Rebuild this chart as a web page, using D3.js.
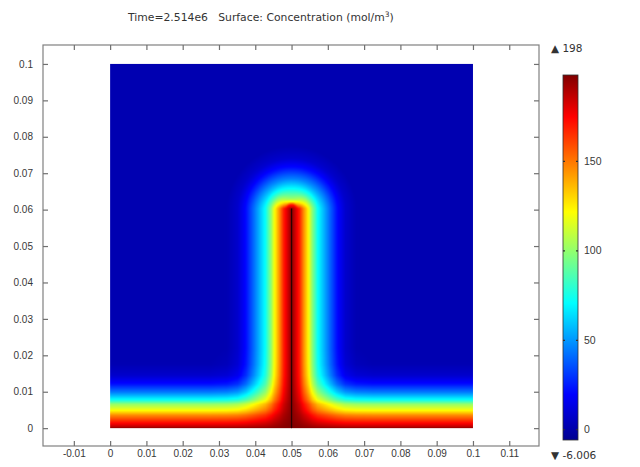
<!DOCTYPE html>
<html>
<head>
<meta charset="utf-8">
<script src="https://cdn.jsdelivr.net/npm/d3@7"></script>
<style>
  body { margin: 0; background: #fff; }
  svg { display: block; font-family: "DejaVu Sans", sans-serif; }
</style>
</head>
<body>
<div id="chart"></div>
<script>
// axis ticks
var xTicks = [-0.01, 0, 0.01, 0.02, 0.03, 0.04, 0.05, 0.06, 0.07, 0.08, 0.09, 0.1, 0.11];
var xTickLabels = ["-0.01", "0", "0.01", "0.02", "0.03", "0.04", "0.05", "0.06", "0.07", "0.08", "0.09", "0.1", "0.11"];
var yTicks = [0, 0.01, 0.02, 0.03, 0.04, 0.05, 0.06, 0.07, 0.08, 0.09, 0.1];
var yTickLabels = ["0", "0.01", "0.02", "0.03", "0.04", "0.05", "0.06", "0.07", "0.08", "0.09", "0.1"];
var cbTicks = [0, 50, 100, 150];
var cMin = -6.006, cMax = 198;

// concentration read across the vertical plume (distance from centre line, m)
var plumeDist = [0, 0.0008, 0.0022, 0.0033, 0.0047, 0.0056, 0.0072, 0.0100, 0.0125, 0.0148, 0.0178, 0.0225];
var plumeConc = [196, 186, 168, 146, 121, 100, 72, 45, 22, 8, 2, 0];
// above the tip of the plume (distance above top of source, m)
var tipDist = [0, 0.0011, 0.0019, 0.0028, 0.0054, 0.0082, 0.0112, 0.0138, 0.0180];
var tipConc = [192, 168, 121, 100, 72, 45, 22, 8, 0];
// bottom layer (height above y=0, m)
var bottomDist = [0, 0.0005, 0.0017, 0.0036, 0.0049, 0.0066, 0.0078, 0.0098, 0.0121, 0.0145, 0.0175, 0.0220];
var bottomConc = [196, 185, 170, 145, 121, 100, 72, 45, 22, 8, 2, 0];
var plumeX = 0.05, plumeTop = 0.0603, background = 1.5;
var domainX = [0, 0.1], domainY = [0, 0.1];

// colour table
var jetStops = [0, 0.125, 0.375, 0.625, 0.885, 1];
var jetColors = ["#000090", "#0000ff", "#00ffff", "#ffff00", "#ff0000", "#800000"];

var width = 640, height = 467;

var svg = d3.select("#chart")
    .append("svg")
    .attr("width", width)
    .attr("height", height);

var x = d3.scaleLinear().domain([-0.0185, 0.1182]).range([43, 539]);
var y = d3.scaleLinear().domain([-0.0049, 0.1052]).range([446, 45]);

var cNorm = d3.scaleLinear().domain([cMin, cMax]).range([0, 1]).clamp(true);
var cmap = d3.scaleLinear().domain(jetStops).range(jetColors).interpolate(d3.interpolateRgb);
var color = function (v) { return cmap(cNorm(v)); };

var plume = d3.scaleLinear().domain(plumeDist).range(plumeConc).clamp(true);
var tip = d3.scaleLinear().domain(tipDist).range(tipConc).clamp(true);
var bottom = d3.scaleLinear().domain(bottomDist).range(bottomConc).clamp(true);

function conc(xv, yv) {
    var dx = Math.abs(xv - plumeX);
    var dy = Math.max(0, yv - plumeTop);
    var p;
    if (dy == 0) {
        p = plume(dx);
    } else {
        var r = Math.sqrt(dx * dx + dy * dy);
        var w = dy / r;
        p = plume(r) * (1 - w) + tip(r) * w;
    }
    var b = bottom(yv);
    var v = cMax * (1 - (1 - p / cMax) * (1 - b / cMax));
    return Math.max(v, background);
}

// render the field on a small canvas then place it with the scales
var n = 300;
var canvas = document.createElement("canvas");
canvas.width = n;
canvas.height = n;
var ctx = canvas.getContext("2d");
var img = ctx.createImageData(n, n);
for (var j = 0; j < n; j++) {
    var yv = domainY[1] - (j + 0.5) / n * (domainY[1] - domainY[0]);
    for (var i = 0; i < n; i++) {
        var xv = domainX[0] + (i + 0.5) / n * (domainX[1] - domainX[0]);
        var c = d3.rgb(color(conc(xv, yv)));
        var k = (j * n + i) * 4;
        img.data[k] = c.r;
        img.data[k + 1] = c.g;
        img.data[k + 2] = c.b;
        img.data[k + 3] = 255;
    }
}
ctx.putImageData(img, 0, 0);

svg.append("image")
    .attr("x", x(domainX[0]))
    .attr("y", y(domainY[1]))
    .attr("width", x(domainX[1]) - x(domainX[0]))
    .attr("height", y(domainY[0]) - y(domainY[1]))
    .attr("preserveAspectRatio", "none")
    .attr("href", canvas.toDataURL());

// source line along the centre
svg.append("line")
    .attr("x1", x(plumeX)).attr("x2", x(plumeX))
    .attr("y1", y(0)).attr("y2", y(plumeTop))
    .attr("stroke", "#2a0000")
    .attr("stroke-width", 1.3);

// frame
svg.append("rect")
    .attr("x", x.range()[0]).attr("y", y.range()[1])
    .attr("width", x.range()[1] - x.range()[0])
    .attr("height", y.range()[0] - y.range()[1])
    .attr("fill", "none")
    .attr("stroke", "#808080")
    .attr("stroke-width", 1.2);

function styleAxis(g) {
    g.select(".domain").remove();
    g.selectAll(".tick line").attr("stroke", "#707070").attr("stroke-width", 1.2);
    g.selectAll(".tick text").attr("fill", "#383838").style("font-size", "10px");
}

svg.append("g")
    .attr("transform", "translate(0," + y.range()[0] + ")")
    .call(d3.axisBottom(x).tickValues(xTicks).tickSize(-5).tickPadding(4)
        .tickFormat(function (d, i) { return xTickLabels[i]; }))
    .call(styleAxis);
svg.append("g")
    .attr("transform", "translate(0," + y.range()[1] + ")")
    .call(d3.axisTop(x).tickValues(xTicks).tickSize(-5).tickFormat(""))
    .call(styleAxis);
svg.append("g")
    .attr("transform", "translate(" + x.range()[0] + ",0)")
    .call(d3.axisLeft(y).tickValues(yTicks).tickSize(-5).tickPadding(10)
        .tickFormat(function (d, i) { return yTickLabels[i]; }))
    .call(styleAxis);
svg.append("g")
    .attr("transform", "translate(" + x.range()[1] + ",0)")
    .call(d3.axisRight(y).tickValues(yTicks).tickSize(-5).tickFormat(""))
    .call(styleAxis);

// title
var title = svg.append("text")
    .attr("x", 128).attr("y", 21)
    .attr("fill", "#333")
    .style("font-size", "10.8px")
    .attr("xml:space", "preserve");
title.append("tspan").text("Time=2.514e6   Surface: Concentration (mol/m");
title.append("tspan").attr("dy", -4).style("font-size", "7.5px").text("3");
title.append("tspan").attr("dy", 4).text(")");

// colour bar
var cb = d3.scaleLinear().domain([cMin, cMax]).range([440, 75]);
var cbX = 563, cbW = 15;
var grad = svg.append("defs").append("linearGradient")
    .attr("id", "cbgrad")
    .attr("x1", 0).attr("y1", 1).attr("x2", 0).attr("y2", 0);
grad.selectAll("stop")
    .data(jetStops)
    .enter()
    .append("stop")
    .attr("offset", function (d) { return d; })
    .attr("stop-color", function (d, i) { return jetColors[i]; });

svg.append("rect")
    .attr("x", cbX).attr("y", cb(cMax))
    .attr("width", cbW).attr("height", cb(cMin) - cb(cMax))
    .attr("fill", "url(#cbgrad)")
    .attr("stroke", "#303030")
    .attr("stroke-width", 0.8);

svg.append("g")
    .attr("transform", "translate(" + (cbX + cbW) + ",0)")
    .call(d3.axisRight(cb).tickValues(cbTicks).tickSize(-2).tickPadding(6)
        .tickFormat(d3.format("d")))
    .call(styleAxis)
    .call(function (g) {
        g.selectAll(".tick line").attr("stroke", "#303030");
        g.selectAll(".tick text").style("font-size", "10.5px");
    });
svg.append("g")
    .attr("transform", "translate(" + cbX + ",0)")
    .call(d3.axisLeft(cb).tickValues(cbTicks).tickSize(-2).tickFormat(""))
    .call(styleAxis)
    .call(function (g) { g.selectAll(".tick line").attr("stroke", "#303030"); });

svg.append("text")
    .attr("x", 551).attr("y", cb(cMax) - 23)
    .attr("fill", "#333")
    .style("font-size", "10.5px")
    .text("\u25B2 198");
svg.append("text")
    .attr("x", 551).attr("y", cb(cMin) + 19)
    .attr("fill", "#333")
    .style("font-size", "10.5px")
    .text("\u25BC -6.006");
</script>
</body>
</html>
